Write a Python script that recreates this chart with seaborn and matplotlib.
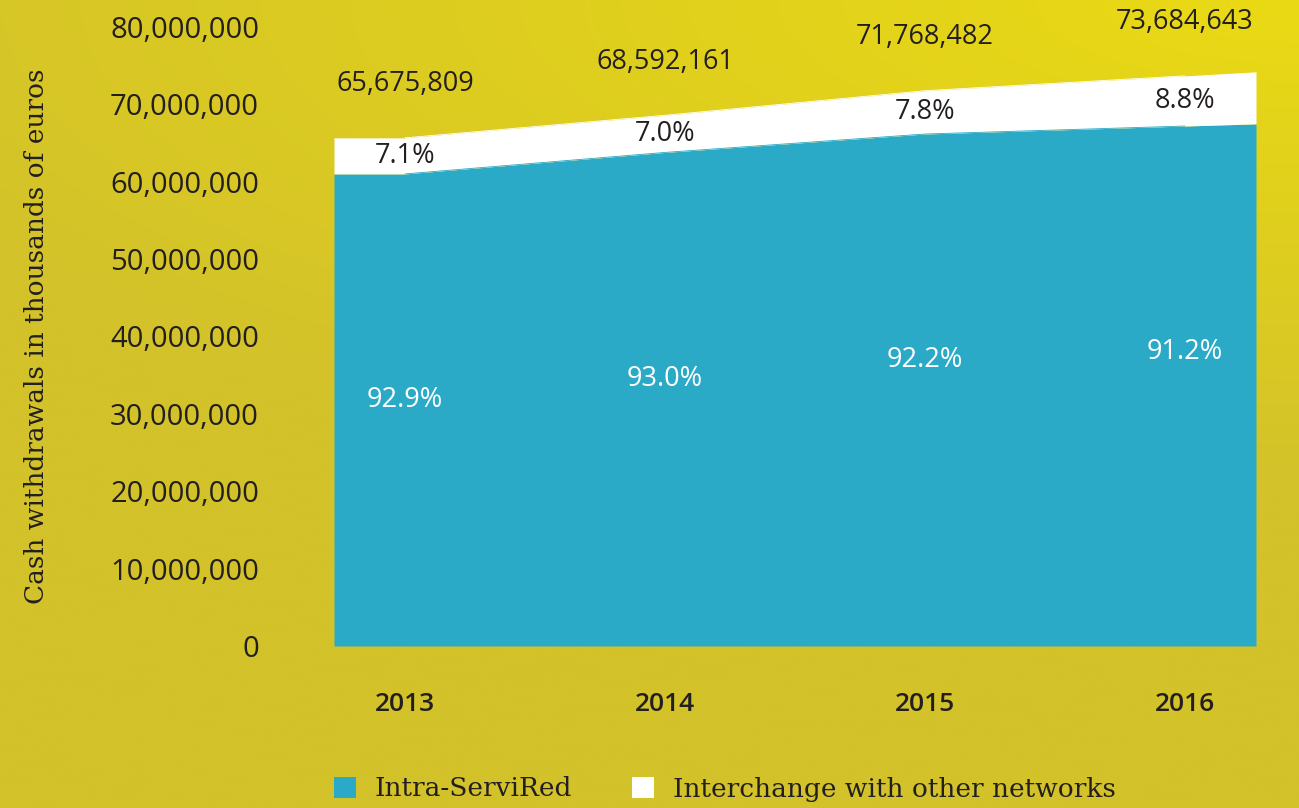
import numpy as np
import pandas as pd
import matplotlib
matplotlib.use("Agg")
import matplotlib.pyplot as plt
import seaborn as sns
from matplotlib.patches import Patch
from matplotlib.ticker import FuncFormatter

# ---------------- data ----------------
years = ["2013", "2014", "2015", "2016"]
totals = [65675809, 68592161, 71768482, 73684643]
pct_intra = [92.9, 93.0, 92.2, 91.2]
pct_inter = [7.1, 7.0, 7.8, 8.8]
y_ticks = [0, 10000000, 20000000, 30000000, 40000000, 50000000, 60000000, 70000000, 80000000]
series_names = ["Intra-ServiRed", "Interchange with other networks"]
y_label = "Cash withdrawals in thousands of euros"

# ---------------- style ----------------
BLUE = "#2BAAC8"
WHITE = "#FFFFFF"
TEXT = "#231F20"
BG_BASE = np.array([211, 194, 42]) / 255
BG_BRIGHT = np.array([234, 218, 20]) / 255

sns.set_theme(style="white")
plt.rcParams["font.family"] = ["Open Sans", "DejaVu Sans"]
plt.rcParams["text.color"] = TEXT

df = pd.DataFrame({"year": years, "total": totals,
                   "intra_pct": pct_intra, "inter_pct": pct_inter})
df["x"] = np.arange(len(df), dtype=float)
df["intra"] = df["total"] * df["intra_pct"] / 100.0

W, H = 1299, 808
fig = plt.figure(figsize=(W / 100, H / 100), dpi=100)
fig.patch.set_facecolor(BG_BASE)

# background gradient (bright toward top-right)
bg = fig.add_axes([0, 0, 1, 1], zorder=-10)
gx, gy = np.meshgrid(np.linspace(0, 1, 260), np.linspace(1, 0, 160))
d = np.sqrt(((1 - gx) / 1.2) ** 2 + ((1 - gy) / 0.6) ** 2)
t = np.clip(1 - d, 0, 1)[..., None]
img = BG_BASE + t * (BG_BRIGHT - BG_BASE)
bg.imshow(img, aspect="auto", extent=[0, 1, 0, 1], interpolation="bicubic")
bg.axis("off")

# main axes
ax = fig.add_axes([334 / W, (H - 646) / H, 922 / W, (646 - 27) / H])
ax.set_facecolor("none")

ext = 71 / 260
n = len(df)
xe = np.concatenate([[-ext], df["x"].values, [df["x"].values[-1] + ext]])


def extend(v):
    v = np.asarray(v, float)
    return np.concatenate([[v[0]], v, [v[-1] + (v[-1] - v[-2]) * ext]])


ax.fill_between(xe, 0, extend(df["intra"]), color=BLUE, lw=0, zorder=2)
ax.fill_between(xe, extend(df["intra"]), extend(df["total"]), color=WHITE, lw=0, zorder=2)
sns.lineplot(data=df, x="x", y="intra", color=BLUE, lw=0.6, ax=ax, legend=False, zorder=3)
sns.lineplot(data=df, x="x", y="total", color=WHITE, lw=0.6, ax=ax, legend=False, zorder=3)

ax.set_xlim(-ext, (n - 1) + ext)
ax.set_ylim(0, 80000000)
for s in ax.spines.values():
    s.set_visible(False)
ax.grid(False)

ax.set_yticks(y_ticks)
ax.yaxis.set_major_formatter(FuncFormatter(lambda v, p: f"{int(v):,}"))
ax.tick_params(axis="y", length=0, pad=54, labelsize=21, labelcolor=TEXT)
ax.set_xticks(df["x"].values)
ax.set_xticklabels(years, fontweight="semibold")
ax.tick_params(axis="x", length=0, pad=33, labelsize=19, labelcolor=TEXT)

ax.set_xlabel("")
ax.set_ylabel(y_label, family=["DejaVu Serif"], fontsize=19, color=TEXT)
ax.yaxis.label.set_va("center")
ax.yaxis.set_label_coords((37 - 334) / 922, 0.5)

# value labels
for _, r in df.iterrows():
    ax.annotate(f"{int(r['total']):,}", (r["x"], r["total"]), xytext=(0, 38.5),
                textcoords="offset points", ha="center", va="center",
                fontsize=19.5, color=TEXT, zorder=5)
    ax.text(r["x"], (r["intra"] + r["total"]) / 2, f"{r['inter_pct']:.1f}%",
            ha="center", va="center", fontsize=19.5, color=TEXT, zorder=5)
    ax.annotate(f"{r['intra_pct']:.1f}%", (r["x"], r["intra"]), xytext=(0, -163),
                textcoords="offset points", ha="center", va="center",
                fontsize=19.5, color=WHITE, zorder=5)

# legend
handles = [Patch(facecolor=BLUE, edgecolor="none"), Patch(facecolor=WHITE, edgecolor="none")]
fs = 19
px = fs * 100 / 72
leg = fig.legend(handles, series_names, loc="center left",
                 bbox_to_anchor=(334 / W, 1 - 789 / H), ncol=2, frameon=False,
                 borderpad=0, borderaxespad=0,
                 handlelength=22 / px, handleheight=22 / px,
                 handletextpad=19 / px, columnspacing=60 / px,
                 prop={"family": "DejaVu Serif", "size": fs})
for txt in leg.get_texts():
    txt.set_color(TEXT)

fig.savefig("out.png", dpi=100, facecolor=fig.get_facecolor())
